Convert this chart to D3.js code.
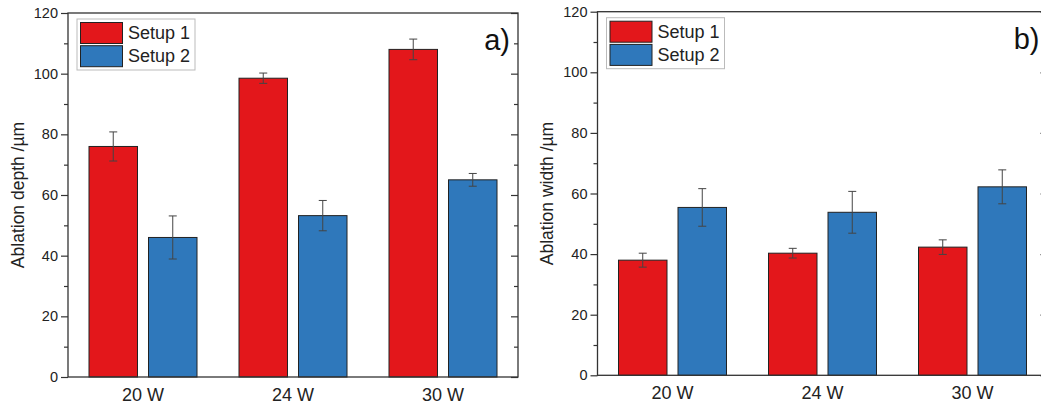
<!DOCTYPE html>
<html>
<head>
<meta charset="utf-8">
<script src="https://cdn.jsdelivr.net/npm/d3@7"></script>
<style>
  html, body { margin: 0; padding: 0; background: #fff; }
  svg { display: block; font-family: "Liberation Sans", Arial, sans-serif; }
</style>
</head>
<body>
<svg id="chart" width="1041" height="407"></svg>
<script>
// ---- data ----
const categories = ["20 W", "24 W", "30 W"];
const seriesNames = ["Setup 1", "Setup 2"];
const yTicks = [0, 20, 40, 60, 80, 100, 120];

const depthSetup1 = [76, 98.5, 108];
const depthSetup1Err = [4.8, 1.7, 3.4];
const depthSetup2 = [46, 53.2, 65];
const depthSetup2Err = [7.1, 5.0, 2.1];

const widthSetup1 = [38, 40.3, 42.3];
const widthSetup1Err = [2.3, 1.6, 2.4];
const widthSetup2 = [55.4, 53.8, 62.2];
const widthSetup2Err = [6.2, 6.9, 5.6];

const colors = ["#e3171b", "#2f78bb"];

const svg = d3.select("#chart");

function drawPanel(opt) {
  const { left, top, bottom, width, title, label, s1, e1, s2, e2, titleX } = opt;
  const g = svg.append("g");
  const y = d3.scaleLinear().domain([0, 120]).range([bottom, top]);
  const x0 = d3.scaleBand().domain(categories).range([left, left + width])
    .paddingInner(0.28).paddingOuter(0.14);
  const x1 = d3.scaleBand().domain(seriesNames).range([0, x0.bandwidth()])
    .paddingInner(0.185).paddingOuter(0);

  const data = [];
  categories.forEach((c, i) => {
    data.push({ c, s: seriesNames[0], v: s1[i], e: e1[i], col: colors[0] });
    data.push({ c, s: seriesNames[1], v: s2[i], e: e2[i], col: colors[1] });
  });

  // bars
  g.selectAll("rect.bar").data(data).enter().append("rect")
    .attr("class", "bar")
    .attr("x", d => x0(d.c) + x1(d.s))
    .attr("y", d => y(d.v))
    .attr("width", x1.bandwidth())
    .attr("height", d => y(0) - y(d.v))
    .attr("fill", d => d.col)
    .attr("stroke", "#222")
    .attr("stroke-width", 1);

  // error bars
  const eb = g.selectAll("g.err").data(data).enter().append("g").attr("class", "err")
    .attr("stroke", "#444").attr("stroke-width", 1);
  const cx = d => x0(d.c) + x1(d.s) + x1.bandwidth() / 2;
  eb.append("line").attr("x1", cx).attr("x2", cx)
    .attr("y1", d => y(d.v + d.e)).attr("y2", d => y(d.v - d.e));
  eb.append("line").attr("x1", d => cx(d) - 4).attr("x2", d => cx(d) + 4)
    .attr("y1", d => y(d.v + d.e)).attr("y2", d => y(d.v + d.e));
  eb.append("line").attr("x1", d => cx(d) - 4).attr("x2", d => cx(d) + 4)
    .attr("y1", d => y(d.v - d.e)).attr("y2", d => y(d.v - d.e));

  // left axis
  const minor = d3.range(10, 120, 20);
  const axL = d3.axisLeft(y).tickValues(yTicks).tickSize(7).tickPadding(3);
  const gl = g.append("g").attr("transform", `translate(${left},0)`).call(axL);
  gl.select(".domain").remove();
  gl.selectAll("line").attr("stroke", "#333").attr("stroke-width", 1.2);
  gl.selectAll("text").attr("font-size", 14.5).attr("fill", "#222")
    .attr("font-family", "Liberation Sans, Arial, sans-serif");
  const glm = g.append("g").attr("transform", `translate(${left},0)`)
    .call(d3.axisLeft(y).tickValues(minor).tickSize(4).tickFormat(""));
  glm.select(".domain").remove();
  glm.selectAll("line").attr("stroke", "#333").attr("stroke-width", 1.2);

  // right axis (inward ticks)
  const right = left + width;
  const gr = g.append("g").attr("transform", `translate(${right},0)`)
    .call(d3.axisLeft(y).tickValues(yTicks).tickSize(7).tickFormat(""));
  gr.select(".domain").remove();
  gr.selectAll("line").attr("stroke", "#333").attr("stroke-width", 1.2);
  const grm = g.append("g").attr("transform", `translate(${right},0)`)
    .call(d3.axisLeft(y).tickValues(minor).tickSize(4).tickFormat(""));
  grm.select(".domain").remove();
  grm.selectAll("line").attr("stroke", "#333").attr("stroke-width", 1.2);

  // frame
  g.append("rect").attr("x", left).attr("y", top).attr("width", width).attr("height", bottom - top)
    .attr("fill", "none").attr("stroke", "#333").attr("stroke-width", 1.3);

  // bottom axis labels
  const gb = g.append("g").attr("transform", `translate(0,${bottom})`)
    .call(d3.axisBottom(x0).tickSize(0).tickPadding(11));
  gb.select(".domain").remove();
  gb.selectAll("text").attr("font-size", 18).attr("fill", "#222")
    .attr("font-family", "Liberation Sans, Arial, sans-serif");

  // y title
  g.append("text")
    .attr("transform", `translate(${titleX},${(top + bottom) / 2}) rotate(-90)`)
    .attr("text-anchor", "middle").attr("dy", "0.35em")
    .attr("font-size", 17.5).attr("fill", "#222").text(title);

  // panel label
  g.append("text").attr("x", right - 8).attr("y", top + 37)
    .attr("text-anchor", "end").attr("font-size", 29).attr("fill", "#111").text(label);

  // legend
  const lx = left + 9, ly = top + 6;
  const lg = g.append("g");
  lg.append("rect").attr("x", lx).attr("y", ly).attr("width", 118).attr("height", 51)
    .attr("fill", "#fff").attr("stroke", "#bbb").attr("stroke-width", 1);
  seriesNames.forEach((s, i) => {
    lg.append("rect").attr("x", lx + 3.5).attr("y", ly + 3.5 + i * 23.2)
      .attr("width", 42).attr("height", 21)
      .attr("fill", colors[i]).attr("stroke", "#222").attr("stroke-width", 1);
    lg.append("text").attr("x", lx + 51).attr("y", ly + 20 + i * 23)
      .attr("font-size", 18).attr("fill", "#222").text(s);
  });
}

drawPanel({ left: 68, top: 13, bottom: 377, width: 450, title: "Ablation depth /µm", label: "a)",
  s1: depthSetup1, e1: depthSetup1Err, s2: depthSetup2, e2: depthSetup2Err, titleX: 18 });
drawPanel({ left: 597.5, top: 11.7, bottom: 375.3, width: 450, title: "Ablation width /µm", label: "b)",
  s1: widthSetup1, e1: widthSetup1Err, s2: widthSetup2, e2: widthSetup2Err, titleX: 547 });
</script>
</body>
</html>
